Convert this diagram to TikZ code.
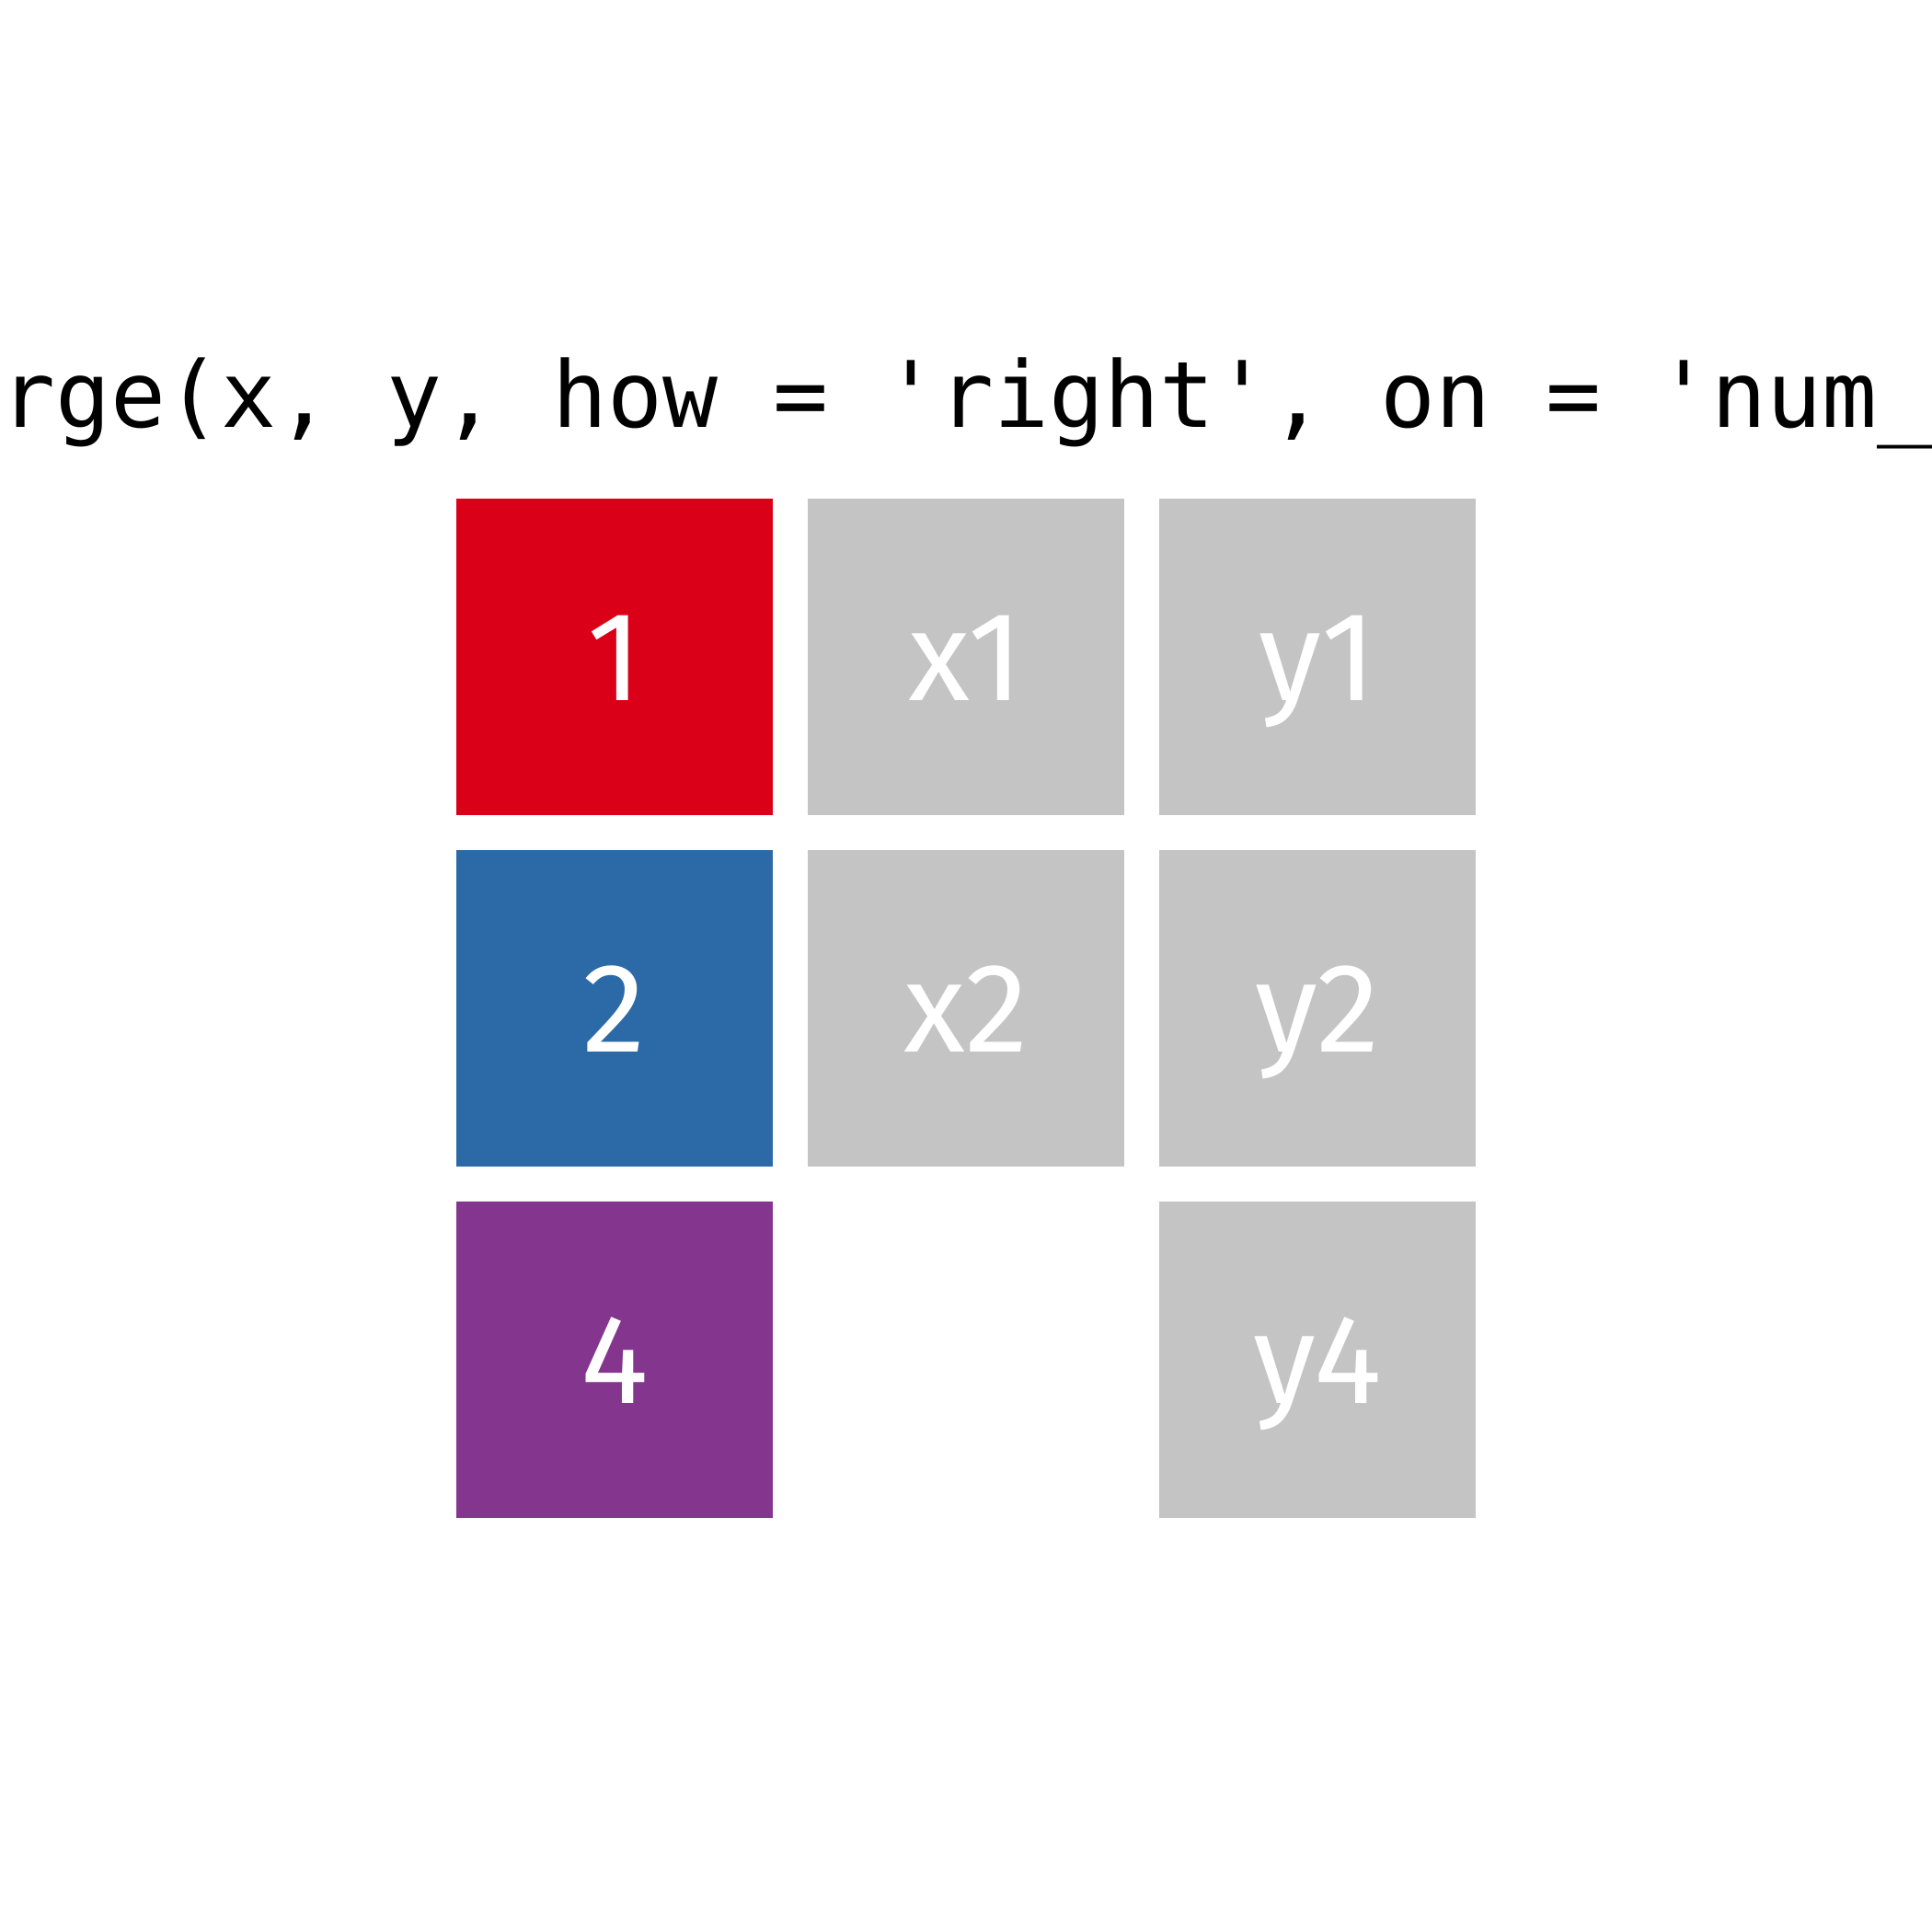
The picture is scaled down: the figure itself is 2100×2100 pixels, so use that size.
\documentclass[tikz,border=0pt]{standalone}
\usepackage{fontspec}
\newfontfamily\cellfont{Fira Sans}
\newfontfamily\codefont{DejaVu Sans Mono}
\definecolor{keyred}{RGB}{218,0,24}
\definecolor{keyblue}{RGB}{44,106,167}
\definecolor{keypurple}{RGB}{132,54,143}
\definecolor{cellgray}{RGB}{196,196,196}
\begin{document}
\begin{tikzpicture}[x=1pt,y=1pt,
  cell/.style={rectangle, inner sep=0pt, minimum size=344pt, draw=none,
    text=white, font=\cellfont\fontsize{138}{138}\selectfont,
    text height=95pt, text depth=0pt},
  code/.style={inner sep=0pt, anchor=base west,
    font=\codefont\fontsize{99.7}{100}\selectfont}]
\useasboundingbox (0,0) rectangle (2100,2100);
\fill[white] (0,0) rectangle (2100,2100);
\node[code] (title) at (0,1635) {rge(x, y, how = 'right', on = 'num\_};
% column 1: keys
\node[cell, fill=keyred]    (k1) at (668,1386) {1};
\node[cell, fill=keyblue]   (k2) at (668,1004) {2};
\node[cell, fill=keypurple] (k4) at (668,622)  {4};
% column 2: x values
\node[cell, fill=cellgray]  (x1) at (1050,1386) {x1};
\node[cell, fill=cellgray]  (x2) at (1050,1004) {x2};
% column 3: y values
\node[cell, fill=cellgray]  (y1) at (1432,1386) {y1};
\node[cell, fill=cellgray]  (y2) at (1432,1004) {y2};
\node[cell, fill=cellgray]  (y4) at (1432,622)  {y4};
\end{tikzpicture}
\end{document}
